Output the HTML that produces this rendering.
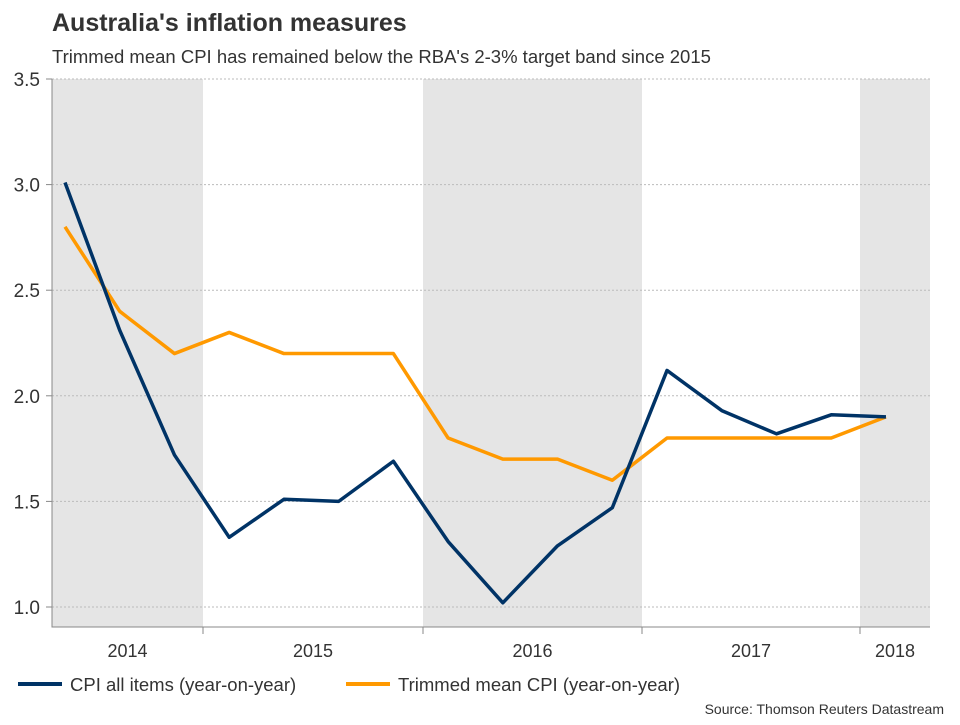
<!DOCTYPE html>
<html><head><meta charset="utf-8"><style>
body{margin:0;background:#fff;font-family:"Liberation Sans",Arial,sans-serif;}
svg text{font-family:"Liberation Sans",Arial,sans-serif;fill:#333;}
</style></head><body>
<svg width="960" height="720" id="c">
<text x="52" y="31" font-size="25" font-weight="bold" fill="#222">Australia's inflation measures</text>
<text x="52" y="63" font-size="18.5">Trimmed mean CPI has remained below the RBA's 2-3% target band since 2015</text>
<g id="bands"></g><g id="grid"></g><g id="axes"></g><g id="lines"></g>
<g>
<line x1="18" y1="684" x2="62" y2="684" stroke="#003366" stroke-width="4"/>
<text x="70" y="691" font-size="18.5">CPI all items (year-on-year)</text>
<line x1="346" y1="684" x2="390" y2="684" stroke="#ff9900" stroke-width="4"/>
<text x="398" y="691" font-size="18.5">Trimmed mean CPI (year-on-year)</text>
</g>
<text x="944" y="714" font-size="14" text-anchor="end">Source: Thomson Reuters Datastream</text>
</svg>
<script>
const cpi=[3.01,2.31,1.72,1.33,1.51,1.50,1.69,1.31,1.02,1.29,1.47,2.12,1.93,1.82,1.91,1.90];
const trimmed=[2.8,2.4,2.2,2.3,2.2,2.2,2.2,1.8,1.7,1.7,1.6,1.8,1.8,1.8,1.8,1.9];
const yTicks=[1.0,1.5,2.0,2.5,3.0,3.5];
const years=["2014","2015","2016","2017","2018"];
const NS="http://www.w3.org/2000/svg";
const L=52,R=930,T=79,B=627;
const y=v=>607-(v-1.0)*(607-79)/2.5;
const x=i=>65+i*54.73;
const yearStart=[52,203,423,642,860,930];
function mk(tag,attrs,parent){const e=document.createElementNS(NS,tag);for(const k in attrs)e.setAttribute(k,attrs[k]);document.getElementById(parent).appendChild(e);return e;}
for(let k=0;k<5;k++){
 if(k%2===0){const r=mk('rect',{x:yearStart[k],y:T,width:yearStart[k+1]-yearStart[k],height:B-T,fill:'#e5e5e5'},'bands');
 
 }
 const t=mk('text',{x:(yearStart[k]+yearStart[k+1])/2,y:657,'font-size':18,'text-anchor':'middle'},'axes');t.textContent=years[k];
 
 
 if(k>0){const tk=mk('line',{x1:yearStart[k],x2:yearStart[k],y1:B,y2:B+7,stroke:'#888'},'axes');
 
 }
}
yTicks.forEach(v=>{
 const g=mk('line',{x1:L,x2:R,y1:y(v),y2:y(v),stroke:'#bbb','stroke-dasharray':'2,2'},'grid');
 
 
 const tk=mk('line',{x1:L-6,x2:L,y1:y(v),y2:y(v),stroke:'#888'},'axes');
 
 
 const t=mk('text',{x:40,y:y(v)+7,'font-size':19,'text-anchor':'end'},'axes');t.textContent=v.toFixed(1);
 
 
});
const ax=mk('path',{d:`M${L},${T}V${B}H${R}`,fill:'none',stroke:'#888'},'axes');


const p2=mk('polyline',{points:trimmed.map((v,i)=>x(i)+','+y(v)).join(' '),fill:'none',stroke:'#ff9900','stroke-width':3.5,'stroke-linejoin':'round'},'lines');


const p1=mk('polyline',{points:cpi.map((v,i)=>x(i)+','+y(v)).join(' '),fill:'none',stroke:'#003366','stroke-width':3.5,'stroke-linejoin':'round'},'lines');


</script>
</body></html>
